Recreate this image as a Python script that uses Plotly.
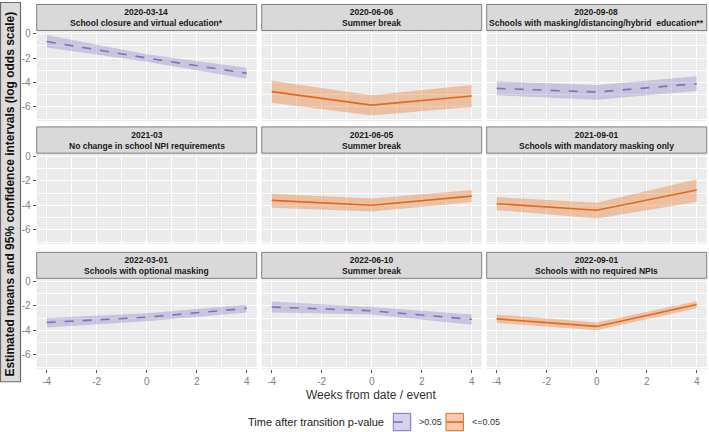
import plotly.graph_objects as go

W, H = 709, 432

# ---------------- data ----------------
weeks = [-4, 0, 4]
dates = ["2020-03-14", "2020-06-06", "2020-09-08",
         "2021-03", "2021-06-05", "2021-09-01",
         "2022-03-01", "2022-06-10", "2022-09-01"]
events = ["School closure and virtual education*", "Summer break",
          "Schools with masking/distancing/hybrid  education**",
          "No change in school NPI requirements", "Summer break",
          "Schools with mandatory masking only",
          "Schools with optional masking", "Summer break",
          "Schools with no required NPIs"]
pgroup = [">0.05", "<=0.05", ">0.05",
          None, "<=0.05", "<=0.05",
          ">0.05", ">0.05", "<=0.05"]
mean = [[-0.65, -2.0, -3.25], [-4.75, -5.85, -5.1], [-4.48, -4.78, -4.1],
        None, [-3.6, -4.0, -3.25], [-3.87, -4.4, -2.75],
        [-3.36, -2.93, -2.2], [-2.1, -2.4, -3.1], [-3.06, -3.68, -1.89]]
lower = [[-1.15, -2.3, -3.7], [-5.65, -6.7, -6.0], [-5.05, -5.4, -4.7],
         None, [-4.2, -4.5, -3.75], [-4.4, -5.07, -3.73],
         [-3.76, -3.25, -2.55], [-2.55, -2.7, -3.55], [-3.4, -4.0, -2.2]]
upper = [[-0.13, -1.7, -2.8], [-3.85, -5.05, -4.2], [-3.9, -4.2, -3.5],
         None, [-3.05, -3.45, -2.75], [-3.33, -3.8, -1.87],
         [-3.0, -2.6, -1.9], [-1.65, -2.1, -2.7], [-2.7, -3.36, -1.62]]
xticks = [-4, -2, 0, 2, 4]
xticklabels = ["-4", "-2", "0", "2", "4"]
yticks = [-6, -4, -2, 0]
yticklabels = ["-6", "-4", "-2", "0"]

# ---------------- styles ----------------
style = {
    ">0.05": dict(line="#7b72c0", fill="rgba(123,114,192,0.32)", dash="dash"),
    "<=0.05": dict(line="#e06a1b", fill="rgba(236,130,60,0.42)", dash="solid"),
}

col_x = [(36.7, 256.7), (261.7, 481.7), (486.7, 706.7)]
row_y = [(28.6, 119.6), (151.9, 243.0), (277.6, 368.6)]
strip_y = [(2.5, 28.6), (125.5, 151.9), (251.5, 277.6)]


def fx(px):
    return px / W


def fy(py):
    return 1 - py / H


fig = go.Figure()
layout = dict(
    width=W, height=H, margin=dict(l=0, r=0, t=0, b=0),
    paper_bgcolor="white", plot_bgcolor="#ebebeb", showlegend=False,
    font=dict(family="Liberation Sans, Arial, sans-serif"),
)
shapes = []
annotations = []

for i in range(9):
    r, c = divmod(i, 3)
    k = "" if i == 0 else str(i + 1)
    xa = "xaxis" + k
    ya = "yaxis" + k
    layout[xa] = dict(
        domain=[fx(col_x[c][0]), fx(col_x[c][1])], anchor="y" + k,
        range=[-4.4, 4.4], tickvals=xticks, ticktext=xticklabels,
        showticklabels=(r == 2),
        ticks="outside" if r == 2 else "", ticklen=3, tickcolor="#555",
        tickfont=dict(size=10, color="#808080"),
        showgrid=True, gridcolor="white", gridwidth=1.1, zeroline=False,
        minor=dict(tickvals=[-3, -1, 1, 3], showgrid=True, gridcolor="white",
                   gridwidth=0.5),
        showline=False, fixedrange=True,
    )
    layout[ya] = dict(
        domain=[fy(row_y[r][1]), fy(row_y[r][0])], anchor="x" + k,
        range=[-7.15, 0.25], tickvals=yticks, ticktext=yticklabels,
        showticklabels=(c == 0),
        ticks="outside" if c == 0 else "", ticklen=3, tickcolor="#555",
        tickfont=dict(size=10, color="#808080"),
        showgrid=True, gridcolor="white", gridwidth=1.1, zeroline=False,
        minor=dict(tickvals=[-7, -5, -3, -1], showgrid=True, gridcolor="white",
                   gridwidth=0.5),
        showline=False, fixedrange=True,
    )
    # strip
    shapes.append(dict(type="rect", xref="paper", yref="paper",
                       x0=fx(col_x[c][0]), x1=fx(col_x[c][1]),
                       y0=fy(strip_y[r][1]), y1=fy(strip_y[r][0]),
                       fillcolor="#d9d9d9", line=dict(color="#7f7f7f", width=1)))
    annotations.append(dict(
        xref="paper", yref="paper",
        x=fx((col_x[c][0] + col_x[c][1]) / 2),
        y=fy((strip_y[r][0] + strip_y[r][1]) / 2),
        text="<b>%s</b><br><b>%s</b>" % (dates[i], events[i]),
        showarrow=False, xanchor="center", yanchor="middle",
        font=dict(size=8.5, color="#1a1a1a")))

    if mean[i] is None:
        # empty panel: invisible trace to create axes
        fig.add_trace(go.Scatter(x=[0], y=[0], mode="markers",
                                 marker=dict(opacity=0), hoverinfo="skip",
                                 xaxis="x" + k, yaxis="y" + k))
        continue
    st = style[pgroup[i]]
    fig.add_trace(go.Scatter(
        x=weeks + weeks[::-1], y=upper[i] + lower[i][::-1],
        fill="toself", fillcolor=st["fill"], line=dict(width=0),
        mode="lines", hoverinfo="skip", xaxis="x" + k, yaxis="y" + k))
    fig.add_trace(go.Scatter(
        x=weeks, y=mean[i], mode="lines",
        line=dict(color=st["line"], width=1.6, dash=st["dash"]),
        xaxis="x" + k, yaxis="y" + k))

# y-axis title box
shapes.append(dict(type="rect", xref="paper", yref="paper",
                   x0=fx(0.5), x1=fx(20.5), y0=fy(381.5), y1=fy(0.5),
                   fillcolor="#dcdcdc", line=dict(color="#6b6b6b", width=1.2)))
annotations.append(dict(
    xref="paper", yref="paper", x=fx(10.5), y=fy(193),
    text="<b>Estimated means and 95% confidence intervals (log odds scale)</b>",
    textangle=-90, showarrow=False, xanchor="center", yanchor="middle",
    font=dict(size=12, color="#111")))

# x-axis title
annotations.append(dict(
    xref="paper", yref="paper", x=fx(371.7), y=fy(395),
    text="Weeks from date / event", showarrow=False,
    xanchor="center", yanchor="middle", font=dict(size=12, color="#333")))

# legend (drawn manually)
annotations.append(dict(
    xref="paper", yref="paper", x=fx(386), y=fy(422),
    text="Time after transition p-value", showarrow=False,
    xanchor="right", yanchor="middle", font=dict(size=11, color="#222")))
legend_items = [(">0.05", 393.3, 417.0), ("<=0.05", 446.0, 470.0)]
for lab, kx, tx in legend_items:
    st = style[lab]
    shapes.append(dict(type="rect", xref="paper", yref="paper",
                       x0=fx(kx), x1=fx(kx + 17.4), y0=fy(430.7), y1=fy(413.3),
                       fillcolor=st["fill"], line=dict(color=st["line"], width=1)))
    shapes.append(dict(type="line", xref="paper", yref="paper",
                       x0=fx(kx + 0.5), x1=fx(kx + 17), y0=fy(422), y1=fy(422),
                       line=dict(color=st["line"], width=1.6, dash=st["dash"])))
    annotations.append(dict(
        xref="paper", yref="paper", x=fx(tx), y=fy(422), text=lab,
        showarrow=False, xanchor="left", yanchor="middle",
        font=dict(size=9, color="#333")))

layout["shapes"] = shapes
layout["annotations"] = annotations
fig.update_layout(**layout)
fig.write_html("out.html")
